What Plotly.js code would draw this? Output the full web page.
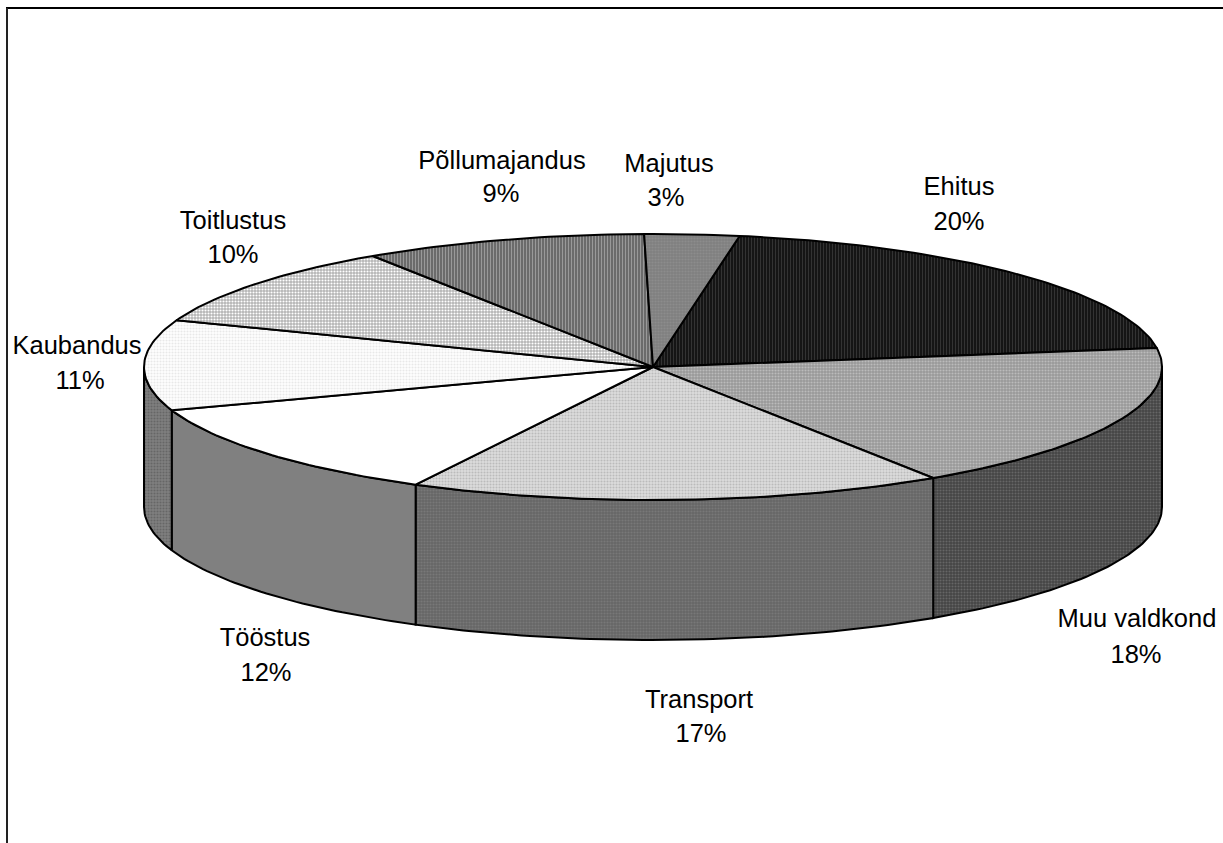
<!DOCTYPE html>
<html><head><meta charset="utf-8">
<script src="https://cdn.plot.ly/plotly-3.0.1.min.js"></script>
<style>html,body{margin:0;padding:0;background:#fff;overflow:hidden}</style></head>
<body><div id="chart" style="width:1223px;height:843px"></div>
<script>
// Data, clockwise from the Ehitus slice
const categories = ['Ehitus','Muu valdkond','Transport','Tööstus','Kaubandus','Toitlustus','Põllumajandus','Majutus'];
const shares = [20,18,17,12,11,10,9,3];

// Styles
const topBg  = ['#111111','#999999','#dddddd','#ffffff','#ffffff','#b4b4b4','#666666','#808080'];
const topFg  = ['#333333','#bbbbbb','#bbbbbb','#ffffff','#e8e8e8','#ffffff','#999999','#8c8c8c'];
const topShape = ['|','.','.','','.','.','|','.'];
const sideBg = ['#111111','#444444','#666666','#808080','#808080','#555555','#333333','#404040'];
const sideFg = ['#333333','#666666','#787878','#808080','#666666','#808080','#4d4d4d','#4d4d4d'];

// Geometry of the drawing, in pixels of the 1223x843 page
const W = 1223, H = 843, CX = 653, CY = 367, RX = 509, RY = 133, DEPTH = 140;
const START_DEG = 9.8;            // clockwise from the top of the ellipse
const xRange = [-CX/RX, (W-CX)/RX];
const yRange = [-(H-CY)/RX, CY/RX];
const tilt = RY/RX, drop = DEPTH/RX;

// Label centres (px)
const nameX = [959,1137,699,265,77,233,502,669];
const pctX  = [959,1136,701,266,80,233,501,666];
const nameY = [189,621,702,640,348,223,163,166];
const pctY  = [224,657,736,675,383,257,196,200];

const xp = p => (p-CX)/RX, yp = p => (CY-p)/RX;
const rad = d => d*Math.PI/180;
const ex = d => Math.sin(rad(d));
const ey = d => Math.cos(rad(d))*tilt;
function arc(a,b){ const xs=[],ys=[]; const n=Math.max(2,Math.ceil(Math.abs(b-a)));
  for(let i=0;i<=n;i++){const d=a+(b-a)*i/n; xs.push(ex(d)); ys.push(ey(d));}
  return [xs,ys]; }
const pat=(bg,fg,sh)=> sh? {shape:sh,bgcolor:bg,fgcolor:fg,fgopacity:1,size:3,solidity:0.4}:undefined;
const line={color:'#000',width:2};
const total=shares.reduce((a,b)=>a+b,0);
let sides=[],tops=[],c=START_DEG;
shares.forEach((v,i)=>{
  const a=c,b=c+v/total*360; c=b;
  const [tx,ty]=arc(a,b);
  tops.push({type:'scatter',mode:'lines',x:[0,...tx,0],y:[0,...ty,0],fill:'toself',fillcolor:topBg[i],
    fillpattern:pat(topBg[i],topFg[i],topShape[i]),line,hoverinfo:'skip',showlegend:false});
  const s=Math.max(a,90),e=Math.min(b,270);
  if(e>s){
    const [ax,ay]=arc(s,e);
    const bx=[...ax].reverse(), by=[...ay].reverse().map(y=>y-drop);
    sides.push({type:'scatter',mode:'lines',x:[...ax,...bx,ax[0]],y:[...ay,...by,ay[0]],fill:'toself',fillcolor:sideBg[i],
      fillpattern:pat(sideBg[i],sideFg[i],'.'),line,hoverinfo:'skip',showlegend:false});
  }
});
const font={family:'"Liberation Sans",Arial,sans-serif',size:25.5,color:'#000'};
const names={type:'scatter',mode:'text',x:nameX.map(xp),y:nameY.map(yp),text:categories,textposition:'middle center',textfont:font,hoverinfo:'skip',showlegend:false,cliponaxis:false};
const pcts={type:'scatter',mode:'text',x:pctX.map(xp),y:pctY.map(yp),text:shares.map(v=>v+'%'),textposition:'middle center',textfont:font,hoverinfo:'skip',showlegend:false,cliponaxis:false};
const axis={visible:false,fixedrange:true,showgrid:false,zeroline:false};
Plotly.newPlot('chart',[...sides,...tops,names,pcts],{
  width:W,height:H,margin:{l:0,r:0,t:0,b:0},paper_bgcolor:'#fff',plot_bgcolor:'#fff',showlegend:false,
  xaxis:{...axis,range:xRange},yaxis:{...axis,range:yRange},
  shapes:[
   {type:'line',xref:'paper',yref:'paper',x0:6/W,x1:1,y0:1-8/H,y1:1-8/H,line:{color:'#000',width:2}},
   {type:'line',xref:'paper',yref:'paper',x0:7/W,x1:7/W,y0:1-8/H,y1:0,line:{color:'#222',width:2}}
  ]
},{displayModeBar:false,staticPlot:true});
</script></body></html>
